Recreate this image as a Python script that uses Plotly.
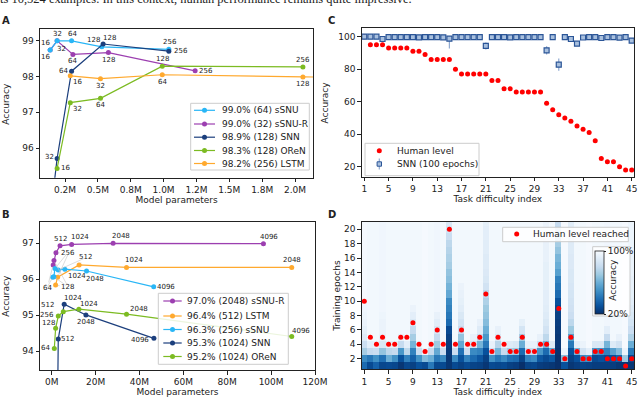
import plotly.graph_objects as go

W, H = 640, 397

# ---------------- panel A: small models ----------------
a_ssnu_x = [0.137, 0.19, 0.30, 0.53, 1.04]
a_ssnu_y = [98.74, 99.0, 99.0, 98.83, 98.76]
a_ssnur_x = [0.137, 0.19, 0.31, 0.58, 1.24]
a_ssnur_y = [98.74, 99.0, 98.62, 98.67, 98.16]
a_snn_x = [0.155, 0.19, 0.30, 0.54, 1.04]
a_snn_y = [94.6, 95.71, 98.15, 98.91, 98.71]
a_oren_x = [0.19, 0.29, 0.52, 0.99, 2.06]
a_oren_y = [95.43, 97.27, 97.39, 98.29, 98.27]
a_lstm_x = [0.29, 0.52, 0.99, 2.06, 4.0]
a_lstm_y = [98.02, 97.94, 98.05, 97.99, 97.93]
a_sizes = ['16', '32', '64', '128', '256']
a_legend = ['99.0% (64) sSNU', '99.0% (32) sSNU-R', '98.9% (128) SNN', '98.3% (128) OReN', '98.2% (256) LSTM']
a_ticks = [0.25, 0.5, 0.75, 1.0, 1.25, 1.5, 1.75, 2.0]
a_ticktext = ['0.2M', '0.5M', '0.8M', '1.0M', '1.2M', '1.5M', '1.8M', '2.0M']

# ---------------- panel B: large models ----------------
b_ssnur_x = [0.7, 1.05, 1.95, 3.8, 9.1, 28.0, 96.5]
b_ssnur_y = [96.40, 96.52, 96.74, 96.93, 96.97, 97.0, 96.99]
b_ssnur_lab = ['64', '128', '256', '512', '1024', '2048', '4096']
b_lstm_x = [1.8, 2.7, 12.5, 34.1, 109.4]
b_lstm_y = [95.84, 96.06, 96.40, 96.33, 96.33]
b_lstm_lab = ['128', '256', '512', '1024', '2048']
b_ssnu_x = [0.5, 1.0, 1.5, 3.0, 6.0, 15.9, 46.5]
b_ssnu_y = [96.06, 96.07, 96.30, 96.26, 96.28, 96.23, 95.79]
b_ssnu_lab = ['64', '128', '256', '512', '1024', '2048', '4096']
b_snn_x = [2.6, 3.0, 5.7, 15.6, 46.6]
b_snn_y = [92.0, 94.34, 95.31, 95.01, 94.36]
b_snn_lab = ['256', '512', '1024', '2048', '4096']
b_oren_x = [1.2, 1.8, 3.0, 5.3, 12.4, 34.1, 109.4]
b_oren_y = [94.08, 94.64, 94.98, 95.10, 95.17, 95.03, 94.41]
b_oren_lab = ['64', '128', '256', '512', '1024', '2048', '4096']
b_legend = ['97.0% (2048) sSNU-R', '96.4% (512) LSTM', '96.3% (256) sSNU', '95.3% (1024) SNN', '95.2% (1024) OReN']
b_ticks = [0, 20, 40, 60, 80, 100, 120]
b_ticktext = ['0M', '20M', '40M', '60M', '80M', '100M', '120M']

# ---------------- panel C / D: tasks ----------------
tasks = list(range(1, 46))
task_ticks = list(range(1, 46, 4))
human_level = [100, 95, 95, 95, 93, 93, 93, 93, 91, 91, 89, 86, 86, 86, 86, 80, 77, 77, 77, 77, 77,
               73, 73, 68, 68, 66, 66, 66, 66, 66, 59, 55, 52, 50, 48, 45, 43, 41, 36, 25, 23, 23,
               20, 18, 18]
snn_acc = [100, 100, 100, 98.6, 99.8, 99.8, 99.8, 99.8, 99.8, 99.6,
           99.8, 99.8, 99.8, 99.6, 98.8, 99.8, 99.8, 99.8, 99.8, 99.8,
           94.3, 99.8, 99.8, 99.8, 99.6, 99.8, 99.8, 99.8, 99.8, 99.8,
           91.6, 99.8, 82.8, 99.8, 98.6, 95.7, 99.5, 99.8, 99.8, 99.2,
           99.8, 99.8, 99.4, 99.8, 97.6]
snn_err_up = [0, 0, 0, 0.5, 0.2, 0.2, 0.2, 0.2, 0.2, 0.3,
              0.2, 0.2, 0.2, 0.3, 1.2, 0.2, 0.2, 0.2, 0.2, 0.2,
              2.2, 0.2, 0.2, 0.2, 0.3, 0.2, 0.2, 0.2, 0.2, 0.2,
              2.6, 0.2, 3.8, 0.2, 0.6, 1.0, 0.4, 0.2, 0.2, 0.5,
              0.2, 0.2, 0.5, 0.2, 0.6]
snn_err_down = [0, 0, 0, 0.5, 0.2, 0.2, 0.2, 0.2, 0.2, 0.3,
                0.2, 0.2, 0.2, 0.3, 6.0, 0.2, 0.2, 0.2, 0.2, 0.2,
                2.2, 0.2, 0.2, 0.2, 0.3, 0.2, 0.2, 0.2, 0.2, 0.2,
                2.6, 0.2, 3.8, 0.2, 0.6, 1.0, 0.4, 0.2, 0.2, 0.5,
                0.2, 0.2, 0.5, 0.2, 0.6]

epochs = list(range(1, 22))
human_epoch = [10, 5, 4, 5, 4, 4, 5, 5, 7, 4, 3, 4, 6, 4, 20, 4, 6, 4, 4, 5, 11, 3, 5, 4, 3, 3, 5,
               3, 3, 4, 4, 3, 9, 2, 5, 3, 2, 2, 3, 3, 2, 2, 2, 1, 2]
# accuracy (%) of the first epochs of every task, then the plateau value
heat_head = [
    [38, 48, 72, 82, 90, 93, 95, 96, 97, 98],
    [28, 42, 80, 92],
    [35, 50, 82, 94],
    [27, 40, 68, 88, 94, 95, 95, 96],
    [28, 60, 78, 93],
    [27, 50, 80, 93],
    [22, 30, 52, 80, 94],
    [27, 45, 78, 92],
    [25, 35, 45, 62, 72, 80, 88, 92, 95],
    [30, 50, 82, 94],
    [28, 65, 95],
    [42, 60, 80, 94],
    [27, 42, 58, 70, 80, 87, 91, 94],
    [28, 48, 82, 94],
    [22, 22, 23, 24, 25, 28, 38, 42, 45, 48, 58, 62, 66, 68, 72, 74, 76, 78, 82, 86, 88],
    [28, 48, 82, 94],
    [25, 30, 40, 58, 68, 80, 85, 88, 91, 93, 94, 95],
    [28, 45, 82, 94],
    [26, 38, 48, 85, 94],
    [25, 32, 45, 62, 80, 90, 94],
    [22, 25, 30, 42, 52, 60, 65, 68, 70, 74, 78, 85, 88, 89, 90, 90, 91, 91, 92, 92, 93],
    [28, 50, 82, 94],
    [27, 42, 62, 76, 88, 94],
    [28, 48, 80, 93],
    [25, 40, 72, 90],
    [24, 38, 70, 88],
    [20, 26, 38, 60, 72, 86, 93],
    [26, 45, 80, 94],
    [27, 48, 80, 94],
    [24, 32, 52, 82, 94],
    [23, 28, 38, 62, 78, 85, 88, 90, 91, 92, 92, 93, 93, 93, 93, 94, 94, 94, 94, 95, 95],
    [22, 32, 58, 90],
    [20, 20, 21, 22, 22, 23, 24, 25, 27, 30, 38, 42, 45, 55, 60, 63, 68, 72, 75, 78, 80],
    [30, 65, 95],
    [22, 25, 30, 42, 55, 70, 78, 82, 84, 85, 86, 87, 88, 88, 89, 89, 90, 90, 90, 91, 91],
    [24, 30, 62, 92],
    [26, 48, 85, 95],
    [25, 50, 92],
    [24, 28, 52, 88],
    [24, 30, 50, 88],
    [24, 28, 45, 62, 80, 92],
    [24, 30, 55, 90],
    [22, 35, 65, 85, 94],
    [22, 70, 95],
    [22, 28, 42, 60, 75, 82, 86, 88, 90, 92, 93, 94, 94, 95, 95, 95, 95, 96, 96, 96, 96],
]
heat_tail = [99, 98, 98, 97, 98, 98, 98, 98, 98, 98, 99, 98, 97, 98, 88, 98, 98, 98, 98, 98, 93,
             98, 98, 98, 98, 98, 98, 98, 98, 98, 95, 98, 80, 99, 91, 98, 98, 99, 98, 98, 97, 98,
             98, 99, 96]

heat_z = []
for e in range(len(epochs)):
    heat_z.append([h[e] if e < len(h) else t for h, t in zip(heat_head, heat_tail)])

C_SSNU = '#29b6f6'
C_SSNUR = '#9c3fb0'
C_SNN = '#1c3f7d'
C_OREN = '#7cbb22'
C_LSTM = '#ffa92e'
INK = '#222222'
blues_r = [[0, '#08306b'], [0.125, '#08519c'], [0.25, '#2171b5'], [0.375, '#4292c6'],
           [0.5, '#6baed6'], [0.625, '#9ecae1'], [0.75, '#c6dbef'], [0.875, '#deebf7'], [1, '#f7fbff']]

fig = go.Figure()
annotations = []
shapes = []


def add_line(x, y, color, xa, ya):
    fig.add_trace(go.Scatter(x=x, y=y, mode='lines+markers', xaxis=xa, yaxis=ya,
                             line=dict(color=color, width=1.2),
                             marker=dict(color=color, size=5), showlegend=False))


def add_labels(x, y, labels, offsets, xref, yref):
    # offsets: (dx, dy, kind) in pixels, kind 't' text, 'L' text + leader, 'l' leader only
    for xv, yv, t, off in zip(x, y, labels, offsets):
        if off is None:
            continue
        dx, dy, kind = off
        f = dict(size=7, color=INK)
        if kind == 't':
            annotations.append(dict(x=xv, y=yv, xref=xref, yref=yref, text=t, showarrow=False,
                                    xshift=dx, yshift=-dy, font=f))
        else:
            annotations.append(dict(x=xv, y=yv, xref=xref, yref=yref, text=t if kind == 'L' else '',
                                    showarrow=True, ax=dx, ay=dy, arrowhead=0, arrowwidth=0.6,
                                    arrowcolor='#c4c4c4', standoff=2, font=f))


def px(x):
    return x / W


def py(y):
    return 1 - y / H


def box(x0, y0, x1, y1):
    shapes.append(dict(type='rect', xref='paper', yref='paper', x0=px(x0), x1=px(x1), y0=py(y1), y1=py(y0),
                       fillcolor='rgba(255,255,255,0.85)', line=dict(color='#cccccc', width=1), layer='above'))


def seg(x0, y0, x1, y1, color, width=1.2):
    shapes.append(dict(type='line', xref='paper', yref='paper', x0=px(x0), x1=px(x1), y0=py(y0), y1=py(y1),
                       line=dict(color=color, width=width), layer='above'))


def marker(x, y, color, r=2.5, kind='circle', edge=None):
    shapes.append(dict(type=kind, xref='paper', yref='paper', xsizemode='pixel', ysizemode='pixel',
                       xanchor=px(x), yanchor=py(y), x0=-r, x1=r, y0=-r, y1=r, fillcolor=color,
                       line=dict(color=edge or color, width=1 if edge else 0), layer='above'))


def text(x, y, t, size=9, **kw):
    annotations.append(dict(x=px(x), y=py(y), xref='paper', yref='paper', text=t, showarrow=False,
                            font=dict(size=size, color=INK), **kw))


# ---- A ----
add_line(a_ssnur_x, a_ssnur_y, C_SSNUR, 'x', 'y')
add_line(a_ssnu_x, a_ssnu_y, C_SSNU, 'x', 'y')
add_line(a_snn_x, a_snn_y, C_SNN, 'x', 'y')
add_line(a_oren_x, a_oren_y, C_OREN, 'x', 'y')
add_line(a_lstm_x, a_lstm_y, C_LSTM, 'x', 'y')
add_labels(a_ssnu_x, a_ssnu_y, a_sizes, [(-5, -7, 't'), (0, -7, 't'), (1, -7, 't'), (-8, -7, 't'), (1, -7, 't')], 'x', 'y')
add_labels(a_ssnur_x, a_ssnur_y, a_sizes, [(-5, 7, 't'), (4, 8, 't'), (0, 7, 't'), (0, 7, 't'), (11, 0, 't')], 'x', 'y')
add_labels(a_snn_x, a_snn_y, a_sizes, [None, (-8, -1, 't'), (-8, 0, 't'), (6, -6, 't'), (12, 0, 't')], 'x', 'y')
add_labels(a_oren_x, a_oren_y, a_sizes, [(8, 0, 't'), (7, 6, 't'), (0, 7, 't'), (0, -7, 't'), (0, -7, 't')], 'x', 'y')
add_labels(a_lstm_x, a_lstm_y, a_sizes, [(7, 6, 't'), (0, 7, 't'), (0, 7, 't'), (0, 7, 't'), None], 'x', 'y')

# ---- B ----
add_line(b_ssnur_x, b_ssnur_y, C_SSNUR, 'x2', 'y2')
add_line(b_lstm_x, b_lstm_y, C_LSTM, 'x2', 'y2')
add_line(b_ssnu_x, b_ssnu_y, C_SSNU, 'x2', 'y2')
add_line(b_snn_x, b_snn_y, C_SNN, 'x2', 'y2')
add_line(b_oren_x, b_oren_y, C_OREN, 'x2', 'y2')
add_labels(b_ssnur_x, b_ssnur_y, b_ssnur_lab,
           [(-6, 23, 'L'), (14, 26, 'l'), (12, 0, 'L'), (0, -7, 't'), (8, -7, 't'), (8, -7, 't'), (6, -7, 't')], 'x2', 'y2')
add_labels(b_lstm_x, b_lstm_y, b_lstm_lab,
           [(12, 2, 'L'), (11, -24, 'l'), (6, -8, 'L'), (7, -7, 't'), (0, -7, 't')], 'x2', 'y2')
add_labels(b_ssnu_x, b_ssnu_y, b_ssnu_lab,
           [(-6, 11, 'l'), (14, 10, 'l'), (13, -16, 'l'), (27, -12, 'l'), (12, 7, 't'), (8, 8, 't'), (12, 0, 't')], 'x2', 'y2')
add_labels(b_snn_x, b_snn_y, b_snn_lab,
           [None, (9, 0, 't'), (9, -6, 't'), (0, 7, 't'), (-14, 2, 't')], 'x2', 'y2')
add_labels(b_oren_x, b_oren_y, b_oren_lab,
           [(-9, 0, 't'), (-7, -5, 't'), (-11, -1, 't'), (-16, -7, 't'), (10, -5, 't'), (12, -5, 't'), (9, -6, 't')], 'x2', 'y2')

# ---- C ----
fig.add_trace(go.Scatter(x=tasks, y=human_level, mode='markers', xaxis='x3', yaxis='y3',
                         marker=dict(color='#ff0000', size=5), showlegend=False))
fig.add_trace(go.Scatter(x=tasks, y=snn_acc, mode='markers', xaxis='x3', yaxis='y3',
                         marker=dict(symbol='square', color='#a9c0de', size=5,
                                     line=dict(color='#2b5597', width=1.2)),
                         error_y=dict(type='data', symmetric=False, array=snn_err_up, arrayminus=snn_err_down,
                                      color='#8ea8d0', thickness=1.2, width=0),
                         showlegend=False))

# ---- D ----
fig.add_trace(go.Heatmap(z=heat_z, x=tasks, y=epochs, xaxis='x4', yaxis='y4', colorscale=blues_r,
                         zmin=20, zmax=100,
                         colorbar=dict(x=px(595), xanchor='left', y=py(282.5), yanchor='middle',
                                       len=63 / H, lenmode='fraction', thickness=9, thicknessmode='pixels',
                                       xpad=0, ypad=0, outlinewidth=0.8, outlinecolor=INK,
                                       tickvals=[20, 100], ticktext=['20%', '100%'], ticks='outside',
                                       ticklen=2, tickcolor=INK, tickfont=dict(size=9, color=INK))))
fig.add_trace(go.Scatter(x=tasks, y=human_epoch, mode='markers', xaxis='x4', yaxis='y4',
                         marker=dict(color='#ff0000', size=5), showlegend=False))

# ---- hand made legends ----
a_rows = [110.3, 124.0, 137.2, 150.5, 163.5]
box(190.7, 103.3, 309.3, 170.0)
for yy, col, lab in zip(a_rows, [C_SSNU, C_SSNUR, C_SNN, C_OREN, C_LSTM], a_legend):
    seg(194, yy, 215, yy, col)
    marker(204.5, yy, col)
    text(220, yy, lab, xanchor='left', yanchor='middle')

b_rows = [301.0, 316.0, 329.5, 343.0, 356.5]
box(158.3, 293.3, 288.3, 364.3)
for yy, col, lab in zip(b_rows, [C_SSNUR, C_LSTM, C_SSNU, C_SNN, C_OREN], b_legend):
    seg(163.3, yy, 181.7, yy, col)
    marker(172.5, yy, col)
    text(185, yy, lab, xanchor='left', yanchor='middle')

box(365, 143.3, 479, 175.7)
marker(379.3, 150.7, '#ff0000')
text(395, 150.7, 'Human level', xanchor='left', yanchor='middle')
seg(379.3, 158.5, 379.3, 169.5, '#8ea8d0', 1.2)
marker(379.3, 164, '#a9c0de', r=2.2, kind='rect', edge='#2b5597')
text(395, 164, 'SNN (100 epochs)', xanchor='left', yanchor='middle')

box(502.7, 227.3, 628.3, 241.7)
marker(516.7, 234, '#ff0000')
text(531, 234, 'Human level reached', xanchor='left', yanchor='middle')

box(592.7, 246.7, 630, 316)
text(612.7, 280, 'Accuracy', textangle=-90, xanchor='center', yanchor='middle')

# y axis titles, placed like the original
for tx, ty, tt in [(6.3, 103.4, 'Accuracy'), (5.8, 296, 'Accuracy'), (325, 102.5, 'Accuracy'),
                   (336.3, 295.5, 'Training epochs')]:
    text(tx, ty, tt, textangle=-90, xanchor='center', yanchor='middle')

# panel letters and the line of page text above the figure
for lx, ly, lt in [(5.5, 20.8, 'A'), (5.5, 214, 'B'), (331, 20.8, 'C'), (332, 214, 'D')]:
    text(lx, ly, '<b>' + lt + '</b>', size=10, xanchor='center', yanchor='middle')
annotations.append(dict(x=-0.003, y=py(7.5), xref='paper', yref='paper', xanchor='left', yanchor='bottom',
                        text='ts 10,524 examples. In this context, human performance remains quite impressive.',
                        showarrow=False, font=dict(family='Liberation Serif', size=12.5, color=INK)))

axis_style = dict(showline=True, linecolor=INK, linewidth=1, mirror=True, ticks='outside', ticklen=3.5,
                  tickwidth=1, tickcolor=INK, showgrid=False, zeroline=False, automargin=False,
                  tickfont=dict(size=9, color=INK), title_font=dict(size=9, color=INK))

fig.update_layout(
    width=W, height=H, margin=dict(l=0, r=0, t=0, b=0),
    paper_bgcolor='white', plot_bgcolor='white', template='none',
    font=dict(family='DejaVu Sans', size=9, color=INK),
    showlegend=False,
    xaxis=dict(axis_style, domain=[px(40), px(313.3)], range=[0.0598, 2.139], anchor='y',
               tickvals=a_ticks, ticktext=a_ticktext, title=dict(text='Model parameters', standoff=2)),
    yaxis=dict(axis_style, domain=[py(177.7), py(29)], range=[95.17, 99.33], anchor='x',
               tickvals=[96, 97, 98, 99], ticksuffix='%'),
    xaxis2=dict(axis_style, domain=[px(40), px(315)], range=[-5.32, 120.0], anchor='y2',
                tickvals=b_ticks, ticktext=b_ticktext, title=dict(text='Model parameters', standoff=2)),
    yaxis2=dict(axis_style, domain=[py(370), py(221.7)], range=[93.48, 97.6], anchor='x2',
                tickvals=[94, 95, 96, 97], ticksuffix='%'),
    xaxis3=dict(axis_style, domain=[px(361.7), px(634)], range=[0.572, 45.38], anchor='y3',
                tickvals=task_ticks, title=dict(text='Task difficulty index', standoff=2)),
    yaxis3=dict(axis_style, domain=[py(176.7), py(28.3)], range=[13.85, 105.17], anchor='x3',
                tickvals=[20, 40, 60, 80, 100], ticksuffix='%'),
    xaxis4=dict(axis_style, domain=[px(361.7), px(634)], range=[0.572, 45.38], anchor='y4',
                tickvals=task_ticks, title=dict(text='Task difficulty index', standoff=2)),
    yaxis4=dict(axis_style, domain=[py(369.3), py(221.7)], range=[0.525, 21.06], anchor='x4',
                tickvals=list(range(2, 21, 2))),
    annotations=annotations,
    shapes=shapes,
)

# the page's default body margin would shift the figure by 8 px
fig.write_html("out.html", config={'displayModeBar': False},
               post_script="document.body.style.margin='0';")
